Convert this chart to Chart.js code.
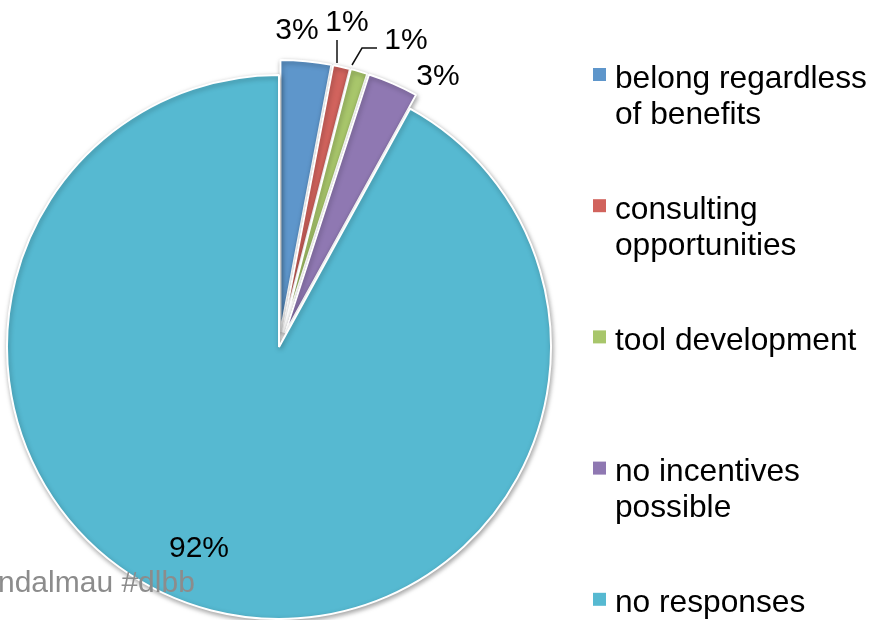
<!DOCTYPE html>
<html><head><meta charset="utf-8">
<script src="https://cdn.jsdelivr.net/npm/chart.js@4"></script>
<style>html,body{margin:0;padding:0;background:#fff;overflow:hidden}</style>
</head><body>
<canvas id="c" width="874" height="620" style="display:block;width:874px;height:620px"></canvas>
<script>
// ---- data ----
const categories = [['belong regardless', 'of benefits'], ['consulting', 'opportunities'], ['tool development'], ['no incentives', 'possible'], ['no responses']];
const values = [3, 1, 1, 3, 92];
const colors = ['#5E96CB', '#D1635D', '#A8C66B', '#8F78B2', '#56B9D1'];
const offsets = [60, 60, 60, 60, 0];
const watermark = 'ndalmau #dlbb';

// ---- layout (not data) ----
const labelPos = [[297, 39], [347, 31], [406, 49], [438, 85], [199, 557]];
const leaders = [null, [[337, 40], [337, 63]], [[377, 48], [362, 48], [352, 65]], null, null];
const FONT = '"Liberation Sans", Arial, sans-serif';

// keep exploded slices at the same radius and angular extent as the rest
const offsetFix = {
  id: 'offsetFix',
  afterDatasetsUpdate(chart) {
    chart.getDatasetMeta(0).data.forEach((arc, i) => {
      const off = offsets[i] / 4;
      if (!off) return;
      const circ = arc.endAngle - arc.startAngle;
      const fix = 1 - Math.sin(Math.min(Math.PI, circ));
      const r = arc.outerRadius;
      arc.outerRadius = r - off * fix;
      const d = (off * fix / Math.PI) / r / 2;
      arc.startAngle -= d;
      arc.endAngle += d;
    });
  }
};
const shadow = {
  id: 'shadow',
  beforeDatasetsDraw(chart) {
    const c = chart.ctx; c.save();
    c.shadowColor = 'rgba(0,0,0,0.35)'; c.shadowBlur = 5; c.shadowOffsetX = 1; c.shadowOffsetY = 2;
  },
  afterDatasetsDraw(chart) { chart.ctx.restore(); }
};
const texts = {
  id: 'texts',
  afterDraw(chart) {
    const c = chart.ctx;
    c.save();
    // data labels
    c.fillStyle = '#000'; c.textAlign = 'center'; c.textBaseline = 'alphabetic';
    c.font = '30px ' + FONT;
    values.forEach((v, i) => { c.fillText(v + '%', labelPos[i][0], labelPos[i][1]); });
    c.strokeStyle = '#111'; c.lineWidth = 1.5;
    leaders.forEach(l => {
      if (!l) return;
      c.beginPath(); c.moveTo(l[0][0], l[0][1]);
      for (let k = 1; k < l.length; k++) c.lineTo(l[k][0], l[k][1]);
      c.stroke();
    });
    // watermark
    c.textAlign = 'left'; c.fillStyle = '#8c8c8c'; c.font = '30px ' + FONT;
    c.fillText(watermark, -2, 592);
    // legend
    c.font = '31.7px ' + FONT;
    categories.forEach((lines, i) => {
      const top = 68 + i * 131.2;
      c.fillStyle = colors[i];
      c.fillRect(593, top, 13, 13);
      c.fillStyle = '#000';
      lines.forEach((t, j) => c.fillText(t, 615, top + 19.5 + j * 36));
    });
    c.restore();
  }
};

new Chart(document.getElementById('c'), {
  type: 'pie',
  data: {
    labels: categories,
    datasets: [{
      data: values,
      backgroundColor: colors,
      borderColor: '#ffffff',
      borderWidth: 2,
      offset: offsets
    }]
  },
  options: {
    responsive: false,
    animation: false,
    radius: 272,
    layout: { padding: { left: 0, right: 316, top: 74, bottom: 0 } },
    plugins: { legend: { display: false }, tooltip: { enabled: false } }
  },
  plugins: [offsetFix, shadow, texts]
});
</script>
</body></html>
